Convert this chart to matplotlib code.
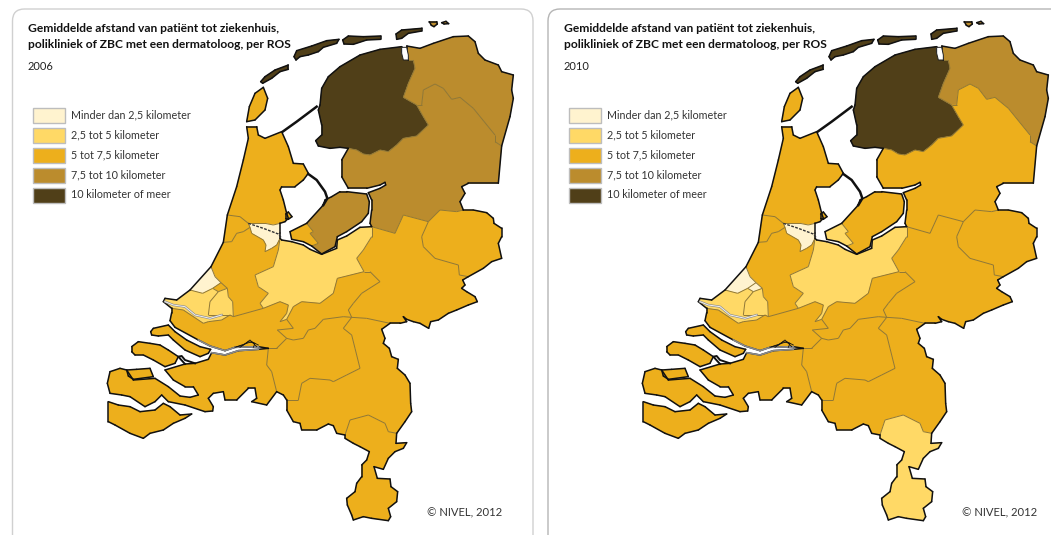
import matplotlib
matplotlib.use('Agg')
import matplotlib.pyplot as plt
from matplotlib.patches import Polygon, Rectangle, FancyBboxPatch
from matplotlib.collections import LineCollection

plt.rcParams['font.family'] = ['Lato', 'DejaVu Sans']

title_lines = ['Gemiddelde afstand van patiënt tot ziekenhuis,',
               'polikliniek of ZBC met een dermatoloog, per ROS']
legend_labels = ['Minder dan 2,5 kilometer', '2,5 tot 5 kilometer', '5 tot 7,5 kilometer',
                 '7,5 tot 10 kilometer', '10 kilometer of meer']
colors = ['#FFF3CF', '#FFD966', '#EDAF1C', '#BB8C2D', '#503F18']
years = ['2006', '2010']
credit = '© NIVEL, 2012'

# outlines of the ROS regions (1 unit = 1/3 pixel)
friesland = [(820,150),(805,150),(785,125),(785,110),(720,118),(660,135),(600,170),(565,200),(545,235),(540,285),
             (535,300),(545,345),(545,375),(527,392),(535,408),(570,415),(600,412),(625,415),(650,420),(670,432),
             (690,435),(720,420),(745,425),(770,405),(790,385),(830,378),(865,345),(850,320),(830,285),(790,262),
             (805,220),(825,175)]
groningen = [(820,150),(805,150),(800,125),(800,108),(840,115),(880,100),(940,80),(985,78),(1005,95),(1015,130),
             (1035,150),(1075,165),(1085,185),(1120,195),(1115,240),(1120,265),(1110,320),(1085,408),(1065,395),
             (1065,375),(1000,295),(960,262),(935,268),(910,235),(885,222),(850,240),(845,285),(830,285),(790,262),
             (805,220),(825,175)]
drenthe = [(830,285),(845,285),(850,240),(885,222),(910,235),(935,268),(960,262),(1000,295),(1065,375),(1065,395),
           (1085,408),(1075,520),(985,520),(965,530),(975,550),(960,575),(970,600),(950,605),(900,600),(865,635),
           (790,615),(765,670),(695,650),(690,640),(695,600),(695,570),(685,548),(720,535),(737,525),(735,517),
           (720,525),(680,535),(625,535),(605,500),(605,450),(625,415),(650,420),(670,432),(690,435),(720,420),
           (745,425),(770,405),(790,385),(830,378),(865,345),(850,320)]
twente = [(865,635),(900,600),(950,605),(970,600),(1000,600),(1040,608),(1060,625),(1062,640),(1085,655),(1085,680),
          (1075,700),(1085,745),(1055,755),(1030,775),(985,800),(958,795),(955,765),(885,745),(850,710),(845,680)]
arnhem = [(695,650),(765,670),(790,615),(865,635),(845,680),(850,710),(885,745),(955,765),(958,795),(985,800),
          (968,810),(975,825),(965,835),(980,845),(1005,860),(1012,875),(985,885),(950,900),(925,910),(895,930),
          (872,935),(866,955),(840,940),(820,935),(800,928),(790,920),(800,935),(780,940),(750,940),(680,925),
          (635,922),(625,900),(640,880),(665,850),(720,815),(690,785),(672,785),(650,745),(670,720),(695,680)]
flevoland = [(500,640),(550,585),(555,570),(575,560),(600,545),(620,545),(680,552),(688,575),(685,610),(665,635),
             (620,665),(592,680),(585,710),(545,732),(515,708),(535,700),(510,670),(520,665)]
almere = [(500,640),(520,665),(510,670),(535,700),(515,708),(490,695),(455,688),(450,665)]
noord_holland = [(262,615),(290,530),(310,450),(325,385),(320,350),(350,350),(355,375),(375,385),(425,365),(445,410),
                 (460,460),(490,462),(505,490),(490,510),(465,530),(425,530),(420,540),(430,570),(440,610),(445,625),
                 (435,635),(420,640),(400,645),(375,640),(325,640),(300,620)]
amsterdam = [(325,640),(375,640),(400,645),(420,640),(420,670),(420,685),(410,705),(395,715),(375,725),(378,705),
             (370,690),(335,670),(330,652)]
kennemerland = [(262,615),(300,620),(325,640),(330,652),(310,665),(290,670),(275,695),(250,697)]
rijnland = [(250,697),(275,695),(290,670),(310,665),(330,652),(335,670),(370,690),(378,705),(375,725),(395,715),
            (410,705),(420,685),(415,720),(400,770),(345,795),(355,830),(385,850),(360,880),(370,895),(280,920),
            (278,875),(265,860),(262,835),(243,818),(225,800),(213,770)]
haaglanden = [(213,770),(225,800),(243,818),(218,835),(188,850),(150,840)]
zoetermeer = [(218,835),(243,818),(262,835),(235,845)]
rotterdam_w = [(150,840),(188,850),(218,835),(235,845),(210,875),(205,915),(270,915),(245,930),(205,935),(190,940),
               (130,900),(95,895),(70,875),(75,865),(110,870)]
rotterdam_o = [(235,845),(262,835),(265,860),(278,875),(280,920),(270,915),(205,915),(210,875)]
utrecht = [(420,685),(425,690),(455,695),(490,705),(510,718),(545,733),(590,715),(592,690),(620,678),(660,652),
           (695,650),(695,680),(670,720),(650,745),(672,785),(592,805),(580,850),(540,880),(485,875),(460,890),
           (440,928),(420,935),(440,910),(445,885),(420,875),(370,895),(360,880),(385,850),(355,830),(345,795),
           (400,770),(415,720)]
rivierenland = [(672,785),(690,785),(720,815),(665,850),(640,880),(625,900),(635,922),(610,920),(550,928),(525,955),
                (505,960),(490,985),(460,990),(440,985),(412,960),(460,955),(440,928),(460,890),(485,875),(540,880),
                (580,850),(592,805)]
drechtsteden = [(280,920),(370,895),(420,875),(445,885),(440,910),(420,935),(440,928),(460,955),(412,960),(440,985),
                (410,1015),(385,1015),(355,1010),(285,1012),(255,1022),(210,1008),(175,990),(105,952),(90,932),
                (95,908),(95,895),(130,900),(190,940),(205,935),(245,930),(270,915)]
west_brabant = [(355,1018),(385,1015),(380,1065),(395,1085),(410,1145),(380,1185),(335,1175),(350,1165),(345,1135),
                (325,1135),(290,1170),(255,1170),(250,1145),(220,1150),(205,1165),(220,1190),(218,1203),(195,1205),
                (135,1185),(85,1175),(65,1155),(45,1175),(15,1190),(-30,1160),(-55,1155),(-90,1150),(-98,1120),
                (-90,1085),(-60,1075),(-40,1080),(-20,1110),(45,1105),(85,1130),(120,1158),(150,1162),(175,1155),
                (160,1130),(135,1130),(100,1110),(75,1080),(135,1062),(165,1060),(205,1048),(215,1028),(255,1035),
                (295,1022)]
midden_brabant = [(385,1015),(410,1015),(440,985),(460,990),(490,985),(505,960),(525,955),(550,928),(610,920),(635,922),
                  (610,955),(635,975),(645,1015),(660,1075),(620,1095),(580,1115),(570,1110),(510,1105),(485,1120),
                  (475,1170),(440,1170),(430,1155),(410,1145),(395,1085),(380,1065)]
noord_limburg = [(635,922),(680,925),(750,940),(725,958),(735,985),(730,1000),(748,1015),(755,1040),(775,1048),
                 (772,1075),(795,1095),(810,1120),(812,1180),(815,1205),(795,1235),(770,1270),(745,1265),(735,1240),
                 (685,1215),(630,1230),(615,1275),(590,1270),(580,1247),(565,1242),(530,1260),(485,1260),(480,1240),
                 (460,1235),(440,1200),(440,1170),(475,1170),(485,1120),(510,1105),(570,1110),(580,1115),(620,1095),
                 (660,1075),(645,1015),(635,975),(610,955)]
zuid_limburg = [(615,1275),(630,1230),(685,1215),(735,1240),(745,1265),(770,1270),(768,1300),(800,1298),(790,1315),
                (765,1325),(745,1345),(730,1378),(702,1370),(712,1405),(750,1407),(753,1430),(773,1445),(770,1475),
                (745,1495),(752,1520),(745,1532),(695,1525),(670,1520),(640,1530),(635,1515),(622,1485),(620,1465),
                (645,1445),(650,1420),(665,1400),(665,1365),(680,1350),(688,1325),(660,1310),(640,1300),(615,1285)]

# islands
texel = [(320,335),(328,290),(345,250),(370,232),(383,265),(375,300),(345,330)]
vlieland = [(362,215),(375,200),(405,180),(445,165),(445,178),(420,185),(395,205),(368,220)]
terschelling = [(462,140),(470,122),(515,108),(560,92),(597,88),(590,100),(550,112),(535,125),(505,135),(480,140),(468,150)]
ameland = [(608,90),(625,78),(670,80),(722,78),(722,88),(680,90),(640,103),(612,102)]
schiermonnikoog = [(768,72),(785,60),(845,55),(845,63),(805,70),(785,85),(770,88)]
rottum_w = [(868,35),(890,35),(892,42),(882,50),(874,46)]
rottum_o = [(905,38),(918,34),(926,41),(912,42)]
goeree = [(32,965),(40,955),(85,945),(105,965),(140,990),(180,1010),(212,1018),(205,1030),(180,1040),(135,1020),
          (100,990),(85,975),(55,978),(35,975)]
schouwen = [(-25,1010),(-5,995),(30,1000),(60,1005),(85,1020),(115,1040),(105,1060),(75,1070),(40,1050),(10,1035),
            (-15,1035),(-25,1025)]
noord_beveland = [(-40,1080),(-10,1078),(30,1075),(40,1100),(-20,1108),(-35,1098)]
zeeuws_vlaanderen = [(-95,1175),(-65,1185),(-30,1190),(0,1205),(45,1200),(70,1180),(90,1190),(120,1215),(155,1212),
                     (135,1225),(100,1240),(70,1260),(30,1270),(10,1285),(-30,1270),(-75,1245),(-95,1235)]
pampus = [(437,612),(445,606),(456,620),(445,628),(437,626)]

# black dikes and waterways
afsluitdijk = [(428,365),(470,335),(530,290)]
houtribdijk = [(505,492),(530,510),(555,545),(562,565),(550,585)]
noordzeekanaal = [(325,640),(370,655),(415,672),(425,685)]
waterweg = [(75,875),(100,885),(135,890),(165,915),(210,925),(245,915)]
kanaal_zeeland = [(135,1062),(115,1040),(125,1038),(135,1050),(165,1060)]
rivier_noord = [(175,990),(210,1008),(255,1022),(285,1012),(355,1010)]
rivier_zuid = [(215,1028),(255,1035),(295,1022),(355,1018)]
biesbosch_a = [(285,1012),(310,1005),(330,990),(350,1010)]
biesbosch_b = [(290,1010),(320,1000),(335,995),(355,1005)]
biesbosch_c = [(300,1012),(325,995),(345,1000),(340,1012)]
lauwersmeer = [(785,112),(800,112),(805,135),(805,150),(790,150),(785,130)]

# class (index into colors) of each region per year
regions = [friesland, groningen, drenthe, twente, arnhem, flevoland, almere, noord_holland, amsterdam, kennemerland,
           rijnland, haaglanden, zoetermeer, rotterdam_w, rotterdam_o, utrecht, rivierenland, drechtsteden,
           west_brabant, midden_brabant, noord_limburg, zuid_limburg, texel, vlieland, terschelling, ameland,
           schiermonnikoog, rottum_w, rottum_o, goeree, schouwen, noord_beveland, zeeuws_vlaanderen, pampus]
class_2006 = [4, 3, 3, 2, 2, 3, 2, 2, 0, 2, 2, 0, 2, 1, 1, 1, 2, 2, 2, 2, 2, 2, 2, 4, 4, 4, 4, 3, 3, 2, 2, 2, 2, 2]
class_2010 = [4, 3, 2, 2, 2, 2, 1, 2, 0, 2, 2, 0, 0, 1, 1, 1, 2, 2, 2, 2, 2, 1, 2, 4, 4, 4, 4, 3, 3, 2, 2, 2, 2, 2]


def to_px(pts, dx):
    return [(140 + x / 3 + dx, 10 + y / 3) for x, y in pts]


def split_edges(rings):
    # an edge used by two regions is an inner border, otherwise it is coast
    count = {}
    for ring in rings:
        for a, b in zip(ring, ring[1:] + ring[:1]):
            key = (min(a, b), max(a, b))
            count[key] = count.get(key, 0) + 1
    coast = [k for k, n in count.items() if n == 1]
    inner = [k for k, n in count.items() if n > 1]
    return coast, inner


def draw_line(ax, line, dx, **kw):
    px = to_px(line, dx)
    ax.plot([p[0] for p in px], [p[1] for p in px], zorder=5, **kw)


def draw_panel(ax, dx, text_dx, classes, year):
    for ring, c in zip(regions, classes):
        ax.add_patch(Polygon(to_px(ring, dx), closed=True, facecolor=colors[c], edgecolor=colors[c], lw=0.3, zorder=2))
    coast, inner = split_edges(regions)
    ax.add_collection(LineCollection([to_px(e, dx) for e in inner], colors='#8f7736', linewidths=0.7, zorder=3))
    ax.add_collection(LineCollection([to_px(e, dx) for e in coast], colors='#111111', linewidths=1.1, zorder=4,
                                     capstyle='round'))
    for line, lw in [(afsluitdijk, 1.8), (houtribdijk, 1.8), (kanaal_zeeland, 1.4)]:
        draw_line(ax, line, dx, color='#111111', lw=lw)
    draw_line(ax, noordzeekanaal, dx, color='#333333', lw=1.0, ls=(0, (2, 1)))
    draw_line(ax, waterweg, dx, color='#8a8a8a', lw=1.6)
    draw_line(ax, waterweg, dx, color='#f2f2f2', lw=0.7)
    draw_line(ax, rivier_noord, dx, color='#8a8a8a', lw=1.2)
    draw_line(ax, rivier_zuid, dx, color='#8a8a8a', lw=1.2)
    for line in [biesbosch_a, biesbosch_b, biesbosch_c]:
        draw_line(ax, line, dx, color='#111111', lw=0.6)
    ax.add_patch(Polygon(to_px(lauwersmeer, dx), closed=True, facecolor='white', edgecolor='#222222', lw=0.7, zorder=5))

    ax.text(28 + text_dx, 28.5, title_lines[0], fontsize=8.65, fontweight='bold', color='#111111', va='center')
    ax.text(28 + text_dx, 44.5, title_lines[1], fontsize=8.65, fontweight='bold', color='#111111', va='center')
    ax.text(28 + text_dx, 66.5, year, fontsize=8, color='#222222', va='center')
    for i, (lab, c) in enumerate(zip(legend_labels, colors)):
        y = 107.5 + i * 20
        ax.add_patch(Rectangle((33 + text_dx, y), 32, 15.5, facecolor=c, edgecolor='#bdbdbd', lw=1, zorder=2))
        ax.text(71 + text_dx, y + 7.5, lab, fontsize=7.75, color='#333333', va='center')
    ax.text(427 + dx, 513, credit, fontsize=8.1, color='#333333', va='center')


fig = plt.figure(figsize=(10.51, 5.37), dpi=100)
ax = fig.add_axes([0, 0, 1, 1])
ax.set_xlim(0, 1051)
ax.set_ylim(537, 0)
ax.axis('off')

# rounded frames, open at the bottom
clip = Rectangle((0, 0), 1051, 535, transform=ax.transData)
for x0, x1, col in [(12.5, 533, '#d0d0d0'), (548, 1100, '#b5b5b5')]:
    frame = FancyBboxPatch((x0 + 12, 21), x1 - x0 - 24, 560, boxstyle='round,pad=12,rounding_size=12',
                           facecolor='white', edgecolor=col, lw=1, zorder=1)
    ax.add_patch(frame)
    frame.set_clip_path(clip)

draw_panel(ax, 0, 0, class_2006, years[0])
draw_panel(ax, 535, 536, class_2010, years[1])

fig.savefig('out.png', dpi=100)
